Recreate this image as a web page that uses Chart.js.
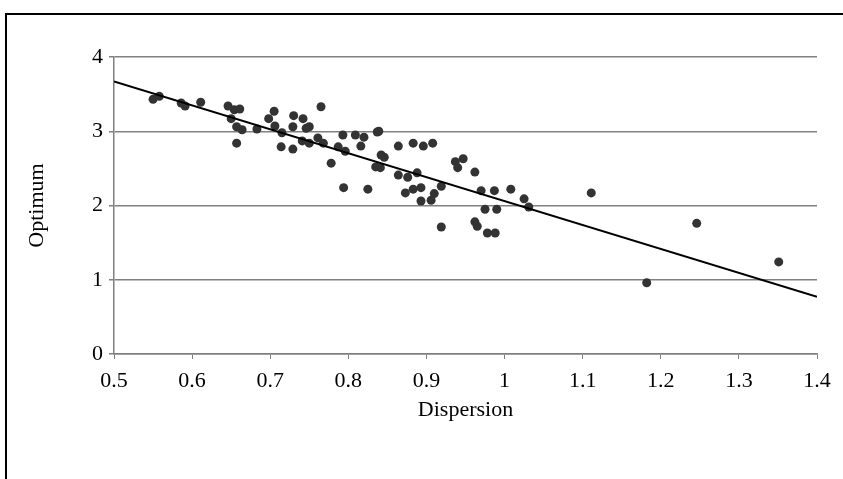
<!DOCTYPE html>
<html>
<head>
<meta charset="utf-8">
<script src="https://cdn.jsdelivr.net/npm/chart.js@4"></script>
<style>
    html, body { margin: 0; padding: 0; background: #fff; overflow: hidden; }
    .frame {
        position: absolute; left: 5px; top: 13px;
        width: 900px; height: 520px;
        border-left: 2px solid #000; border-top: 2px solid #000;
    }
    #chart { position: absolute; left: 0; top: 0; }
</style>
</head>
<body>
<div class="frame"></div>
<canvas id="chart" width="843" height="479"></canvas>
<script>
// --- DATA ---
const dispersion = [
    0.550, 0.558, 0.586, 0.591, 0.611, 0.646, 0.654, 0.661, 0.650, 0.657,
    0.664, 0.683, 0.657, 0.698, 0.705, 0.706, 0.715, 0.714, 0.729, 0.730,
    0.729, 0.742, 0.750, 0.746, 0.765, 0.741, 0.750, 0.761, 0.768, 0.778,
    0.793, 0.787, 0.796, 0.809, 0.820, 0.816, 0.837, 0.839, 0.842, 0.846,
    0.835, 0.841, 0.864, 0.883, 0.896, 0.908, 0.864, 0.876, 0.888, 0.794,
    0.825, 0.873, 0.883, 0.893, 0.893, 0.906, 0.910, 0.919, 0.919, 0.937,
    0.947, 0.940, 0.962, 0.962, 0.965, 0.970, 0.975, 0.978, 0.988, 0.987,
    0.990, 1.008, 1.025, 1.031, 1.111, 1.182, 1.246, 1.351
];
const optimum = [
    3.43, 3.47, 3.38, 3.34, 3.39, 3.34, 3.29, 3.30, 3.17, 3.06,
    3.02, 3.03, 2.84, 3.17, 3.27, 3.07, 2.98, 2.79, 3.06, 3.21,
    2.76, 3.17, 3.06, 3.04, 3.33, 2.87, 2.84, 2.91, 2.84, 2.57,
    2.95, 2.79, 2.73, 2.95, 2.92, 2.80, 2.99, 3.00, 2.68, 2.65,
    2.52, 2.51, 2.80, 2.84, 2.80, 2.84, 2.41, 2.38, 2.44, 2.24,
    2.22, 2.17, 2.22, 2.24, 2.06, 2.07, 2.16, 2.26, 1.71, 2.59,
    2.63, 2.51, 2.45, 1.78, 1.72, 2.20, 1.95, 1.63, 1.63, 2.20,
    1.95, 2.22, 2.09, 1.98, 2.17, 0.96, 1.76, 1.24
];
// linear trend line, read at both ends of the x axis
const trendX = [0.5, 1.4];
const trendY = [3.67, 0.77];

const GRID = '#808080';
const FONT = { family: '"Liberation Serif", "Times New Roman", serif', size: 22 };

const points = dispersion.map((x, i) => ({ x: x, y: optimum[i] }));
const trend = trendX.map((x, i) => ({ x: x, y: trendY[i] }));

new Chart(document.getElementById('chart').getContext('2d'), {
    type: 'scatter',
    data: {
        datasets: [
            {
                type: 'line',
                data: trend,
                borderColor: '#000',
                borderWidth: 2,
                pointRadius: 0,
                fill: false,
                order: 0
            },
            {
                data: points,
                backgroundColor: '#333333',
                borderColor: '#333333',
                pointRadius: 4.5,
                borderWidth: 0,
                order: 1
            }
        ]
    },
    options: {
        responsive: false,
        animation: false,
        layout: { padding: { left: 0, right: 26, top: 57, bottom: 0 } },
        plugins: { legend: { display: false }, tooltip: { enabled: false } },
        scales: {
            x: {
                type: 'linear',
                min: 0.5, max: 1.4,
                afterFit: s => { s.height = 125; },
                ticks: {
                    stepSize: 0.1, color: '#000', font: FONT, padding: 9,
                    maxRotation: 0,
                    callback: v => String(Math.round(v * 10) / 10)
                },
                grid: { drawOnChartArea: false, color: GRID, tickLength: 5 },
                border: { color: GRID, width: 1.5 },
                title: { display: true, text: 'Dispersion', color: '#000', font: FONT, padding: { top: 0, bottom: 56 } }
            },
            y: {
                min: 0, max: 4,
                afterFit: s => { s.width = 114; },
                ticks: { stepSize: 1, color: '#000', font: FONT, padding: 6 },
                grid: { color: GRID, lineWidth: 1.5, tickLength: 5 },
                border: { color: GRID, width: 1.5 },
                title: { display: true, text: 'Optimum', color: '#000', font: FONT, padding: { top: 24, bottom: 0 } }
            }
        }
    }
});
</script>
</body>
</html>
